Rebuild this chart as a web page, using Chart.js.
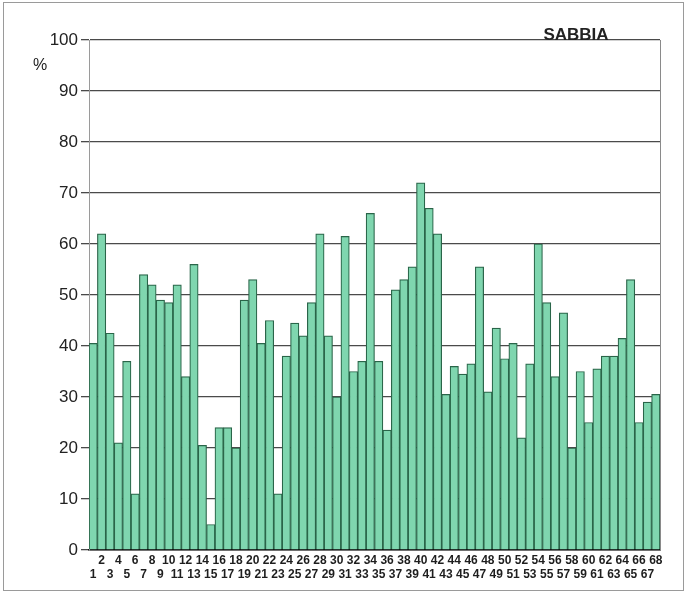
<!DOCTYPE html>
<html>
<head>
<meta charset="utf-8">
<script src="https://cdn.jsdelivr.net/npm/chart.js@4"></script>
<style>
  html, body { margin: 0; padding: 0; background: #fff; }
  #wrap { width: 688px; height: 593px; }
</style>
</head>
<body>
<div id="wrap"><canvas id="chart" width="688" height="593"></canvas></div>
<script>
// Samples and sand percentages
const samples = Array.from({ length: 68 }, (_, i) => String(i + 1));
const sabbia = [
  40.5, 62, 42.5, 21, 37, 11, 54, 52, 49, 48.5,
  52, 34, 56, 20.5, 5, 24, 24, 20, 49, 53,
  40.5, 45, 11, 38, 44.5, 42, 48.5, 62, 42, 30,
  61.5, 35, 37, 66, 37, 23.5, 51, 53, 55.5, 72,
  67, 62, 30.5, 36, 34.5, 36.5, 55.5, 31, 43.5, 37.5,
  40.5, 22, 36.5, 60, 48.5, 34, 46.5, 20, 35, 25,
  35.5, 38, 38, 41.5, 53, 25, 29, 30.5
];
const yTicks = [0, 10, 20, 30, 40, 50, 60, 70, 80, 90, 100];

// Frame, right border, "%" and title
const decor = {
  id: "decor",
  beforeDraw(chart) {
    const ctx = chart.ctx;
    ctx.save();
    ctx.strokeStyle = "#9a9a9a";
    ctx.lineWidth = 1;
    ctx.strokeRect(3.5, 2.5, 680, 588);
    ctx.restore();
  },
  afterDraw(chart) {
    const { ctx, chartArea } = chart;
    ctx.save();
    ctx.strokeStyle = "#8a8a8a";
    ctx.lineWidth = 1;
    ctx.beginPath();
    ctx.moveTo(chartArea.right + 0.5, chartArea.top);
    ctx.lineTo(chartArea.right + 0.5, chartArea.bottom);
    ctx.stroke();
    ctx.fillStyle = "#222";
    ctx.font = "16px 'Liberation Sans', Arial, sans-serif";
    ctx.textAlign = "left";
    ctx.textBaseline = "middle";
    ctx.fillText("%", 33, 66);
    ctx.font = "bold 17px 'Liberation Sans', Arial, sans-serif";
    ctx.textAlign = "center";
    ctx.textBaseline = "alphabetic";
    ctx.fillText("SABBIA", 576, 40);
    ctx.restore();
  }
};

new Chart(document.getElementById("chart"), {
  type: "bar",
  data: {
    labels: samples,
    datasets: [{
      data: sabbia,
      backgroundColor: "#7fd6af",
      borderColor: "#2a6549",
      borderWidth: 1.2,
      barPercentage: 1,
      categoryPercentage: 1
    }]
  },
  options: {
    responsive: false,
    animation: false,
    layout: { padding: { left: 0, right: 28, top: 40, bottom: 0 } },
    plugins: { legend: { display: false }, tooltip: { enabled: false } },
    scales: {
      x: {
        offset: true,
        grid: { display: false, drawTicks: false },
        border: { color: "#111", width: 1.5 },
        ticks: {
          autoSkip: false,
          maxRotation: 0,
          minRotation: 0,
          padding: 3,
          color: "#1e1e1e",
          font: { family: "'Liberation Sans Narrow', 'Liberation Sans', Arial, sans-serif", size: 12, weight: "bold", lineHeight: 1.2 },
          callback: (v, i) => (i % 2 === 0 ? ["", samples[i]] : [samples[i], ""])
        },
        afterFit: s => { s.height = 43; }
      },
      y: {
        min: 0,
        max: 100,
        afterBuildTicks: s => { s.ticks = yTicks.map(v => ({ value: v })); },
        grid: { color: "#4a4a4a", lineWidth: 1.3, tickLength: 8 },
        border: { color: "#9a9a9a", width: 1 },
        ticks: {
          padding: 3,
          color: "#222",
          font: { family: "'Liberation Sans', Arial, sans-serif", size: 17 }
        },
        afterFit: s => { s.width = 89; }
      }
    }
  },
  plugins: [decor]
});
</script>
</body>
</html>
